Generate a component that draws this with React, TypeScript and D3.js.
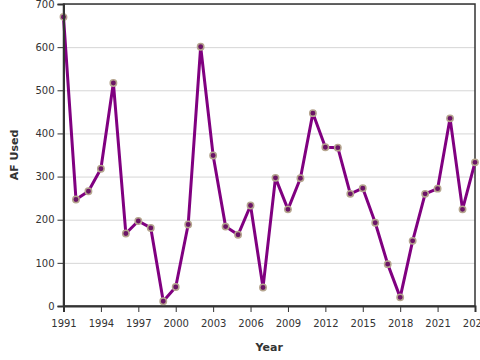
import { useRef, useEffect } from "react";
import * as d3 from "d3";

const YEARS = [
  1991, 1992, 1993, 1994, 1995, 1996, 1997, 1998, 1999, 2000, 2001, 2002,
  2003, 2004, 2005, 2006, 2007, 2008, 2009, 2010, 2011, 2012, 2013, 2014,
  2015, 2016, 2017, 2018, 2019, 2020, 2021, 2022, 2023, 2024,
];
const AF_USED = [
  670, 247, 266, 318, 517, 168, 197, 181, 11, 44, 189, 601,
  349, 184, 165, 233, 43, 297, 224, 296, 447, 368, 367, 260,
  273, 193, 97, 20, 151, 260, 272, 435, 224, 333,
];
const Y_TICKS = [0, 100, 200, 300, 400, 500, 600, 700];
const X_TICKS = [1991, 1994, 1997, 2000, 2003, 2006, 2009, 2012, 2015, 2018, 2021, 2024];

export default function App() {
  const svgRef = useRef<SVGSVGElement>(null);

  useEffect(() => {
    const W = 480;
    const H = 360;
    const m = { top: 4, right: 5, bottom: 54, left: 63.5 };
    const w = W - m.left - m.right;
    const h = H - m.top - m.bottom;

    d3.select(svgRef.current).selectAll("*").remove();
    const root = d3.select(svgRef.current).attr("width", W).attr("height", H);
    const svg = root.append("g").attr("transform", `translate(${m.left},${m.top})`);

    const x = d3.scaleLinear().domain([1991, 2024]).range([0, w]);
    const y = d3.scaleLinear().domain([0, 700]).range([h, 0]);

    // Grid
    svg
      .append("g")
      .call(d3.axisLeft(y).tickValues(Y_TICKS).tickSize(-w).tickFormat(() => ""))
      .call((g) => {
        g.select(".domain").remove();
        g.selectAll("line").attr("stroke", "#d6d6d6").attr("stroke-width", 1);
      });

    // Frame
    svg
      .append("rect")
      .attr("width", w)
      .attr("height", h)
      .attr("fill", "none")
      .attr("stroke", "#333")
      .attr("stroke-width", 1.5);

    const pts = YEARS.map((yr, i) => ({ year: yr, value: AF_USED[i] }));

    const line = d3.line<{ year: number; value: number }>()
      .x((d) => x(d.year))
      .y((d) => y(d.value));

    svg
      .append("path")
      .datum(pts)
      .attr("fill", "none")
      .attr("stroke", "#800080")
      .attr("stroke-width", 3)
      .attr("stroke-linejoin", "round")
      .attr("d", line);

    svg
      .selectAll("circle.pt")
      .data(pts)
      .join("circle")
      .attr("class", "pt")
      .attr("cx", (d) => x(d.year))
      .attr("cy", (d) => y(d.value))
      .attr("r", 3.2)
      .attr("fill", "#6b1466")
      .attr("stroke", "#b5a58e")
      .attr("stroke-width", 1.5);

    // Axes
    svg
      .append("g")
      .attr("transform", `translate(0,${h})`)
      .call(d3.axisBottom(x).tickValues(X_TICKS).tickFormat(d3.format("d")).tickSizeOuter(0).tickSize(6))
      .call((g) => {
        g.select(".domain").attr("stroke", "#333").attr("stroke-width", 2);
        g.selectAll("line").attr("stroke", "#333");
        g.selectAll("text")
          .attr("fill", "#333")
          .attr("font-size", "10px")
          .attr("font-family", "DejaVu Sans, sans-serif")
          .attr("dy", "1.2em");
      });

    svg
      .append("g")
      .call(d3.axisLeft(y).tickValues(Y_TICKS).tickSizeOuter(0).tickSize(6))
      .call((g) => {
        g.select(".domain").attr("stroke", "#333").attr("stroke-width", 2);
        g.selectAll("line").attr("stroke", "#333");
        g.selectAll("text")
          .attr("fill", "#333")
          .attr("font-size", "10px")
          .attr("font-family", "DejaVu Sans, sans-serif");
      });

    // Axis titles
    root
      .append("text")
      .attr("x", m.left + w / 2)
      .attr("y", 351)
      .attr("text-anchor", "middle")
      .attr("font-family", "DejaVu Sans, sans-serif")
      .attr("font-weight", "bold")
      .attr("font-size", "11px")
      .attr("fill", "#333")
      .text("Year");

    root
      .append("text")
      .attr("transform", `translate(18,${m.top + h / 2}) rotate(-90)`)
      .attr("text-anchor", "middle")
      .attr("font-family", "DejaVu Sans, sans-serif")
      .attr("font-weight", "bold")
      .attr("font-size", "11px")
      .attr("fill", "#333")
      .text("AF Used");
  }, []);

  return (
    <div style={{ position: "absolute", left: 0, top: 0, width: 480, height: 360, background: "#fff" }}>
      <svg ref={svgRef} style={{ display: "block" }} />
    </div>
  );
}
